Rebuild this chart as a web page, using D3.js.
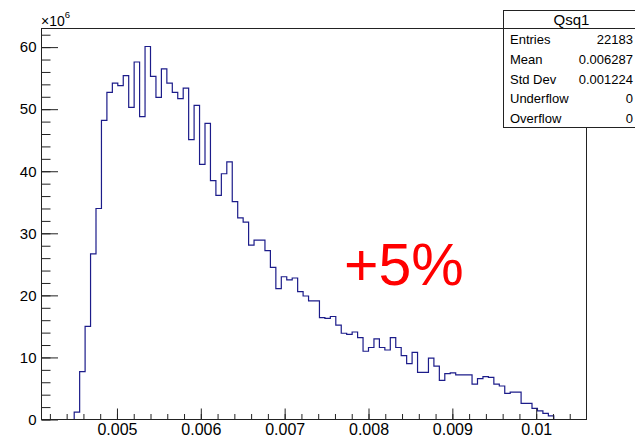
<!DOCTYPE html>
<html>
<head>
<meta charset="utf-8">
<script src="https://cdn.jsdelivr.net/npm/d3@7"></script>
<style>
  body { margin: 0; background: #fff; }
  svg { display: block; font-family: "Liberation Sans", Arial, Helvetica, sans-serif; }
  .tick line { stroke: #222; }
  .tick text { fill: #000; }
</style>
</head>
<body>
<div id="chart"></div>
<script>

// histogram Qsq1, 100 bins, contents in units of 1e6
var xMin = 0.0041, xMax = 0.0106
var counts = [
  0, 0, 0, 0, 0, 0, 1.2, 7.7, 15.0, 26.7,
  34.0, 48.2, 52.7, 54.2, 53.8, 55.4, 50.3, 57.6, 48.8, 60.1,
  55.3, 51.9, 56.5, 54.2, 52.7, 51.7, 53.4, 45.1, 50.6, 41.1,
  47.7, 38.5, 36.1, 39.6, 41.5, 35.1, 32.5, 31.8, 28.1, 28.9,
  28.9, 27.2, 24.5, 21.1, 23.0, 22.5, 22.8, 20.6, 19.9, 19.1,
  19.1, 16.4, 16.3, 16.6, 15.2, 13.9, 13.7, 14.1, 13.2, 11.0,
  11.6, 13.0, 11.6, 11.2, 13.2, 11.6, 10.3, 9.0, 10.8, 7.6,
  7.6, 9.9, 8.6, 6.3, 7.4, 7.5, 7.2, 7.2, 7.2, 5.7,
  6.6, 6.9, 6.8, 5.7, 5.4, 4.2, 4.4, 4.4, 2.6, 2.6,
  1.8, 1.4, 1.0, 0.6, 0, 0, 0, 0, 0, 0
]
var yMax = 63

var xTicks = [0.005, 0.006, 0.007, 0.008, 0.009, 0.01]
var xTickLabels = ['0.005', '0.006', '0.007', '0.008', '0.009', '0.01']
var yTicks = [0, 10, 20, 30, 40, 50, 60]

var statsTitle = 'Qsq1'
var statNames = ['Entries', 'Mean', 'Std Dev', 'Underflow', 'Overflow']
var statValues = ['22183', '0.006287', '0.001224', '0', '0']

var note = '+5%'

var W = 635, H = 439
var margin = {left: 41.5, top: 28.5, right: 48.5, bottom: 19.5}
var width = W - margin.left - margin.right
var height = H - margin.top - margin.bottom

var svg = d3.select('#chart').append('svg').attr('width', W).attr('height', H)
var g = svg.append('g').attr('transform', 'translate(' + margin.left + ',' + margin.top + ')')

var x = d3.scaleLinear().domain([xMin, xMax]).range([0, width])
var y = d3.scaleLinear().domain([0, yMax]).range([height, 0])

var binW = (xMax - xMin) / counts.length

// step outline, only over the filled range
var first = counts.findIndex(d => d > 0)
var last = counts.length - 1 - counts.slice().reverse().findIndex(d => d > 0)
var pts = [[xMin + first * binW, 0]]
for (var i = first; i <= last; i++) {
  pts.push([xMin + i * binW, counts[i]])
  pts.push([xMin + (i + 1) * binW, counts[i]])
}
pts.push([xMin + (last + 1) * binW, 0])

var line = d3.line().x(d => x(d[0])).y(d => y(d[1]))
g.append('path')
  .attr('d', line(pts))
  .attr('fill', 'none')
  .attr('stroke', '#1c1c8a')
  .attr('stroke-width', 1.2)

// axes, ticks pointing inwards like ROOT
var xMinor = d3.range(21, 53).map(d => +(d * 0.0002).toFixed(4))
var yMinor = d3.range(0, 63, 2)

g.append('g').attr('transform', 'translate(0,' + height + ')')
  .call(d3.axisBottom(x).tickValues(xMinor).tickSize(-5.5).tickFormat(''))
  .call(a => a.select('.domain').remove())

g.append('g').attr('transform', 'translate(0,' + height + ')')
  .call(d3.axisBottom(x).tickValues(xTicks).tickSize(-11).tickPadding(4.5)
    .tickFormat((d, i) => xTickLabels[i]))
  .call(a => a.select('.domain').remove())
  .selectAll('text').style('font-size', '16px')

g.append('g')
  .call(d3.axisLeft(y).tickValues(yMinor).tickSize(-9).tickFormat(''))
  .call(a => a.select('.domain').remove())

g.append('g')
  .call(d3.axisLeft(y).tickValues(yTicks).tickSize(-16.5).tickPadding(5))
  .call(a => a.select('.domain').remove())
  .selectAll('text').style('font-size', '15px')

g.selectAll('.tick text').attr('font-family', null)

// frame
g.append('rect')
  .attr('width', width).attr('height', height)
  .attr('fill', 'none').attr('stroke', '#222').attr('stroke-width', 1)

// x10^6 exponent
var ex = svg.append('text').attr('x', 41).attr('y', 26).style('font-size', '14px')
ex.append('tspan').text('×10')
ex.append('tspan').attr('dy', -8).style('font-size', '9.5px').text('6')

// big red label
svg.append('text')
  .attr('x', 344).attr('y', 285)
  .attr('fill', '#ff0000')
  .style('font-size', '59px')
  .text(note)

// stats box
var bx = 503.5, by = 10.5, bw = 140, th = 18, rh = 19.8
var box = svg.append('g')
box.append('rect')
  .attr('x', bx).attr('y', by).attr('width', bw).attr('height', th + rh * statNames.length)
  .attr('fill', '#fff').attr('stroke', '#222')
box.append('line')
  .attr('x1', bx).attr('x2', bx + bw).attr('y1', by + th).attr('y2', by + th)
  .attr('stroke', '#222')
box.append('text')
  .attr('x', 571.5).attr('y', by + 14)
  .attr('text-anchor', 'middle')
  .style('font-size', '15px')
  .text(statsTitle)

box.selectAll('text.name').data(statNames).enter().append('text')
  .attr('class', 'name')
  .attr('x', 510).attr('y', (d, i) => by + th + 15.5 + i * rh)
  .style('font-size', '13px')
  .text(d => d)

box.selectAll('text.val').data(statValues).enter().append('text')
  .attr('class', 'val')
  .attr('x', 633).attr('y', (d, i) => by + th + 15.5 + i * rh)
  .attr('text-anchor', 'end')
  .style('font-size', '13px')
  .text(d => d)

</script>
</body>
</html>
